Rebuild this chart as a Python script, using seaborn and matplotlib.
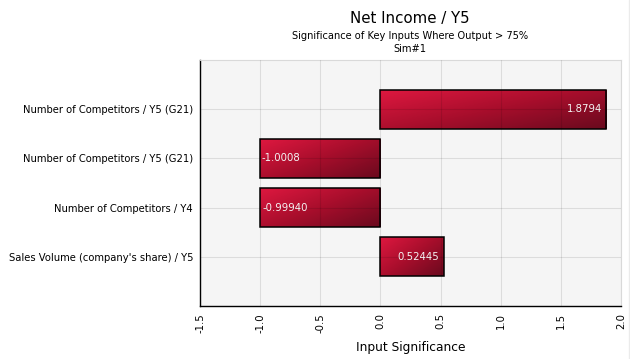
import numpy as np
import pandas as pd
import matplotlib
matplotlib.use("Agg")
import matplotlib.pyplot as plt
from matplotlib.colors import LinearSegmentedColormap
from matplotlib.lines import Line2D
import seaborn as sns

# data
labels = [
    "Number of Competitors / Y5 (G21)",
    "Number of Competitors / Y5 (G21)",
    "Number of Competitors / Y4",
    "Sales Volume (company's share) / Y5",
]
values = [1.8794, -1.0008, -0.99940, 0.52445]
value_text = ["1.8794", "-1.0008", "-0.99940", "0.52445"]
xticks = [-1.5, -1.0, -0.5, 0.0, 0.5, 1.0, 1.5, 2.0]

sns.set_theme(style="white")
plt.rcParams['font.family'] = ['DejaVu Sans']

df = pd.DataFrame({"slot": [str(i) for i in range(len(labels))], "value": values})

fig = plt.figure(figsize=(6.3, 3.59), dpi=100)
ax = fig.add_axes([200 / 630, 1 - 306 / 359, 421 / 630, 246 / 359])
ax.set_facecolor("#F5F5F5")

sns.barplot(data=df, x="value", y="slot", orient="h", order=df["slot"].tolist(),
            color="#C0102E", edgecolor="black", linewidth=1.1, width=0.8, ax=ax)

# gradient fill, clipped to each bar (light top-left -> dark bottom-right)
cmap = LinearSegmentedColormap.from_list("red", ["#DF1840", "#A80E2C", "#6A0A1E"])
u = np.linspace(0, 1, 200)
v = np.linspace(0, 1, 40)
grad = (u[None, :] * 0.55 + v[:, None] * 0.45)
for p in list(ax.patches):
    xa, xb = sorted([p.get_x(), p.get_x() + p.get_width()])
    ya, yb = sorted([p.get_y(), p.get_y() + p.get_height()])
    im = ax.imshow(grad, cmap=cmap, aspect="auto", origin="upper",
                   extent=(xa, xb, yb, ya), zorder=2, interpolation="bilinear")
    im.set_clip_path(p)
    p.set_facecolor("none")
    p.set_zorder(3)

ax.set_xlim(-1.5, 2.0)
ax.set_ylim(len(labels), -1)

# value labels
for i, (val, txt) in enumerate(zip(values, value_text)):
    if val >= 0:
        ax.text(val - 0.035, i, txt, ha="right", va="center", color="#F4F4F4", fontsize=7.3, zorder=5)
    else:
        ax.text(val + 0.015, i, txt, ha="left", va="center", color="#F4F4F4", fontsize=7.3, zorder=5)

ax.set_xticks(xticks)
ax.set_xticklabels([f"{t:.1f}" for t in xticks], rotation=90, fontsize=7.3)
ax.set_yticks(range(len(labels)))
ax.set_yticklabels(labels, fontsize=7.2)
ax.tick_params(axis="both", length=3, width=0.8, color="black", pad=2, colors="black")

ax.grid(True, color="black", alpha=0.1, linewidth=0.8)
ax.set_axisbelow(False)
for side in ["top", "right"]:
    ax.spines[side].set_color("#D9D9D9")
    ax.spines[side].set_linewidth(0.8)
for side in ["left", "bottom"]:
    ax.spines[side].set_color("black")
    ax.spines[side].set_linewidth(1.0)

ax.set_xlabel("Input Significance", fontsize=8.8, color="black", labelpad=6)
ax.set_ylabel("")

fig.text(410 / 630, 1 - 18 / 359, "Net Income / Y5", ha="center", va="center", fontsize=10.8, color="black")
fig.text(410 / 630, 1 - 36 / 359, "Significance of Key Inputs Where Output > 75%", ha="center", va="center", fontsize=7.1, color="black")
fig.text(410 / 630, 1 - 49 / 359, "Sim#1", ha="center", va="center", fontsize=7.1, color="black")

fig.add_artist(Line2D([628.5 / 630, 628.5 / 630], [0, 1], color="#EBEBEB", linewidth=1))

fig.savefig("out.png", dpi=100)
